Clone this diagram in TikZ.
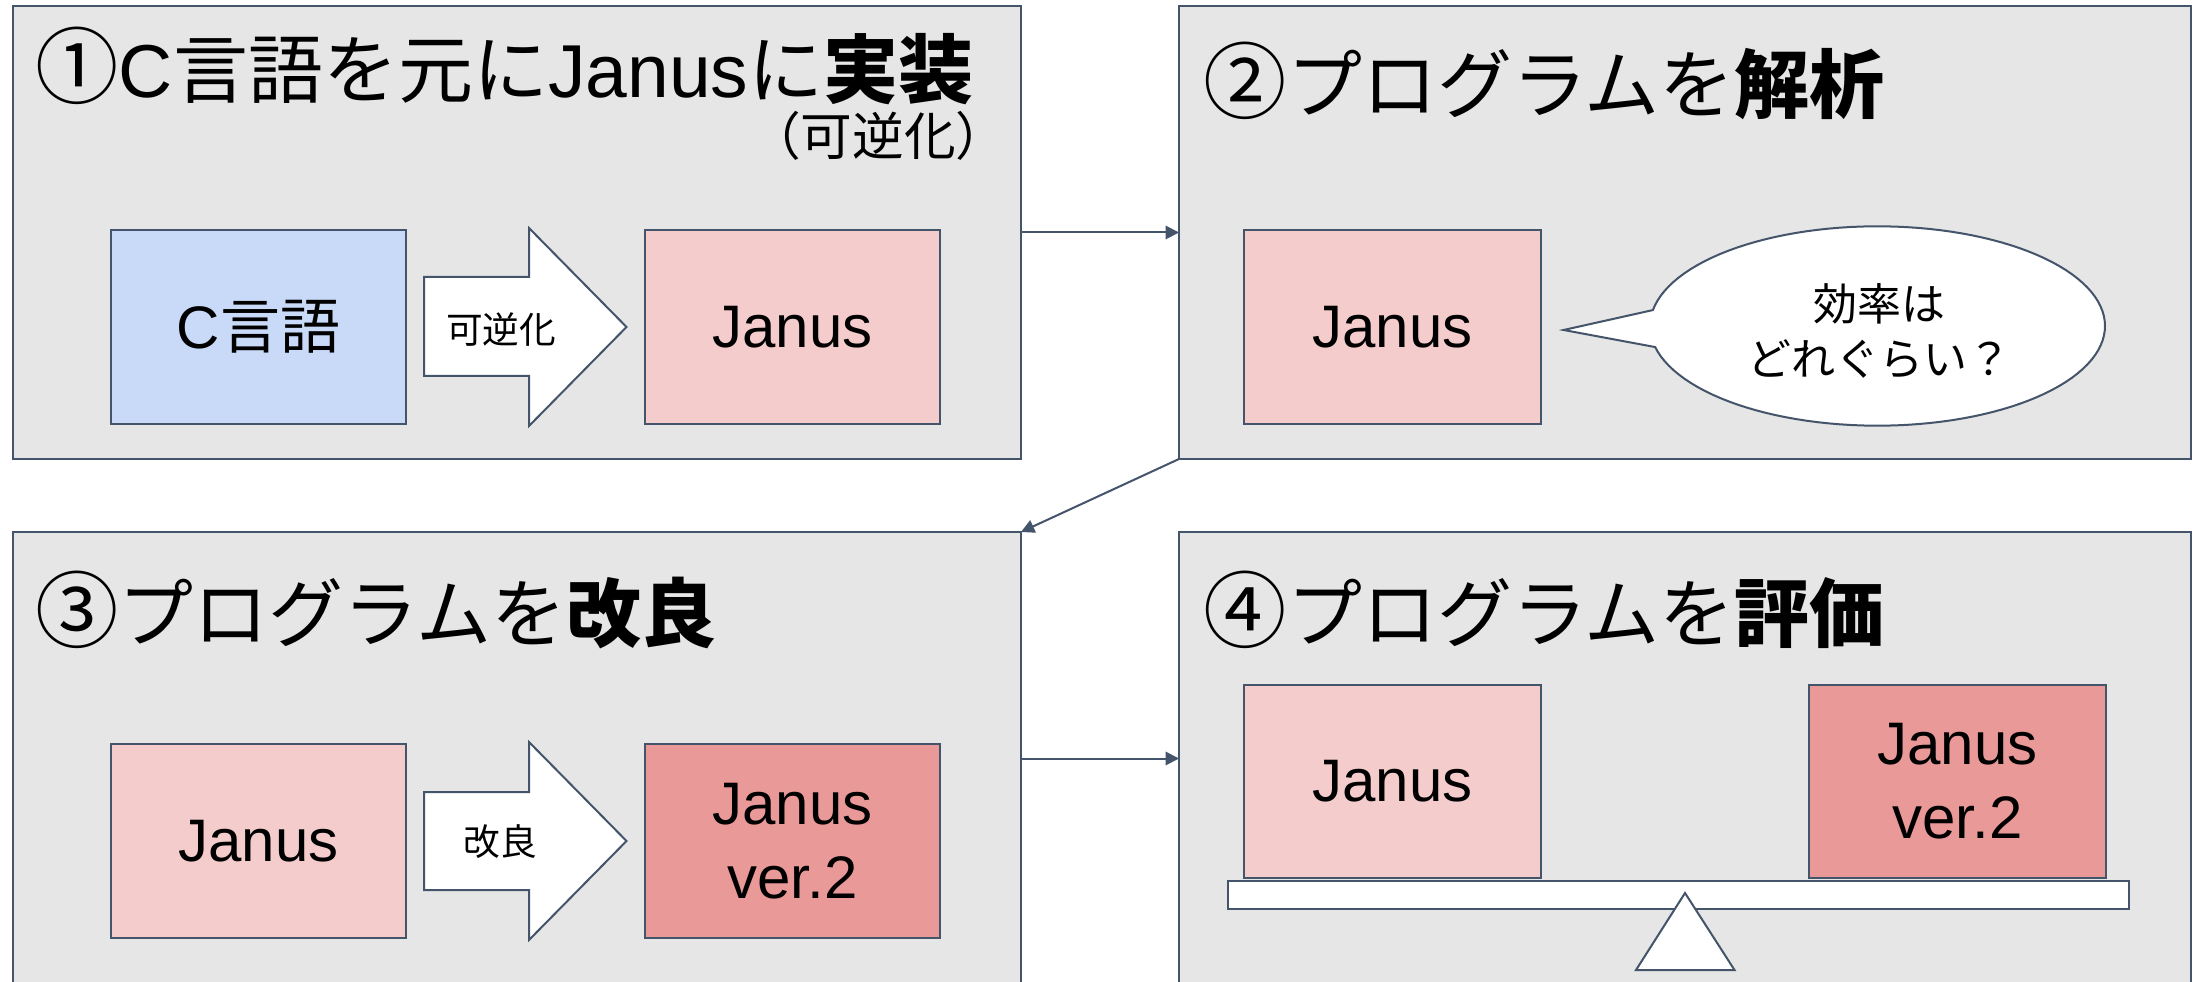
\documentclass[tikz,border=0pt]{standalone}
\usepackage{fontspec}
\setmainfont{Liberation Sans}
\newfontfamily\jp{Noto Sans CJK JP}
\usetikzlibrary{arrows.meta}
\definecolor{panel}{HTML}{E6E6E6}
\definecolor{edge}{HTML}{44546A}
\definecolor{cblue}{HTML}{C9DAF8}
\definecolor{jpink}{HTML}{F4CCCC}
\definecolor{jred}{HTML}{EA9999}
\begin{document}
\begin{tikzpicture}[x=0.3pt,y=-0.3pt,
 panelbox/.style={draw=edge, fill=panel, line width=0.6pt, minimum width=302.4pt, minimum height=135.9pt, inner sep=0pt, outer sep=0pt},
 itembox/.style={draw=edge, line width=0.6pt, minimum width=88.5pt, minimum height=58.2pt, inner sep=0pt, outer sep=0pt, font=\fontsize{18}{22.2}\selectfont, align=center},
 titletext/.style={anchor=base west, inner sep=0pt, font=\fontsize{22.5}{27}\selectfont},
 flow/.style={draw=edge, line width=0.6pt, -{Triangle[length=4pt,width=4pt]}},
 blockarrow/.style={draw=edge, fill=white, line width=0.6pt, line join=miter},
 smalllabel/.style={font=\jp\fontsize{11}{13}\selectfont, inner sep=0pt},
]
\useasboundingbox (0,0) rectangle (2193,982);
\clip (0,0) rectangle (2193,982);
\fill[white] (0,0) rectangle (2193,982);

% panels
\node[panelbox] (b1) at (517,232.5) {};
\node[panelbox, minimum width=303.6pt] (b2) at (1685,232.5) {};
\node[panelbox] (b3) at (517,758.5) {};
\node[panelbox, minimum width=303.6pt] (b4) at (1685,758.5) {};

% connectors
\draw[flow] (b1.east) -- (b2.west);
\draw[flow] (b2.south west) -- (b3.north east);
\draw[flow] (b3.east) -- (b4.west);

% titles
\node[titletext] (t1) at (35,98) {{\jp\fontsize{25}{27}\selectfont ①}C{\jp 言語を元に}Janus{\jp に\bfseries 実装}};
\node[inner sep=0pt, anchor=east, font=\jp\fontsize{15.5}{17}\selectfont] (t1b) at (1008,136) {（可逆化）};
\node[titletext] (t2) at (1203,113) {{\jp\fontsize{25}{27}\selectfont ②}{\jp プログラムを\bfseries 解析}};
\node[titletext] (t3) at (35,641) {{\jp\fontsize{25}{27}\selectfont ③}{\jp プログラムを\bfseries 改良}};
\node[titletext] (t4) at (1203,641) {{\jp\fontsize{25}{27}\selectfont ④}{\jp プログラムを\bfseries 評価}};

% panel 1
\node[itembox, fill=cblue] (c1) at (258.5,327) {C{\jp 言語}};
\node[itembox, fill=jpink] (j1) at (792.5,327) {Janus};
\draw[blockarrow] (424,277) -- (529,277) -- (529,228) -- (626.5,327) -- (529,426) -- (529,376) -- (424,376) -- cycle;
\node[smalllabel] (l1) at (501,330) {可逆化};

% panel 2
\node[itembox, fill=jpink, minimum width=89.1pt] (j2) at (1392.5,327) {Janus};
\draw[edge, fill=white, line width=0.6pt, line join=miter]
  plot[domain=12.2:350.8, samples=120, variable=\t] ({1877.5-227.5*cos(\t)}, {326+99.7*sin(\t)})
  -- (1563.6,330) -- cycle;
\node[align=center, inner sep=0pt, font=\jp\fontsize{13.2}{16.5}\selectfont] (q) at (1879,331) {効率は\\どれぐらい？};

% panel 3
\node[itembox, fill=jpink] (j3) at (258.5,841) {Janus};
\node[itembox, fill=jred] (j3b) at (792.5,841) {Janus\\ver.2};
\draw[blockarrow] (424,792) -- (529,792) -- (529,742) -- (626.5,841) -- (529,940) -- (529,890) -- (424,890) -- cycle;
\node[smalllabel] (l3) at (500,842) {改良};

% panel 4
\node[itembox, fill=jpink, minimum width=89.1pt, minimum height=57.9pt] (j4) at (1392.5,781.5) {Janus};
\node[itembox, fill=jred, minimum width=89.1pt, minimum height=57.9pt] (j4b) at (1957.5,781.5) {Janus\\ver.2};
\node[draw=edge, fill=white, line width=0.6pt, minimum width=270.3pt, minimum height=8.4pt, inner sep=0pt, outer sep=0pt] (beam) at (1678.5,895) {};
\draw[edge, fill=white, line width=0.6pt, line join=miter] (1685,893) -- (1734.5,970) -- (1636,970) -- cycle;
\end{tikzpicture}
\end{document}
